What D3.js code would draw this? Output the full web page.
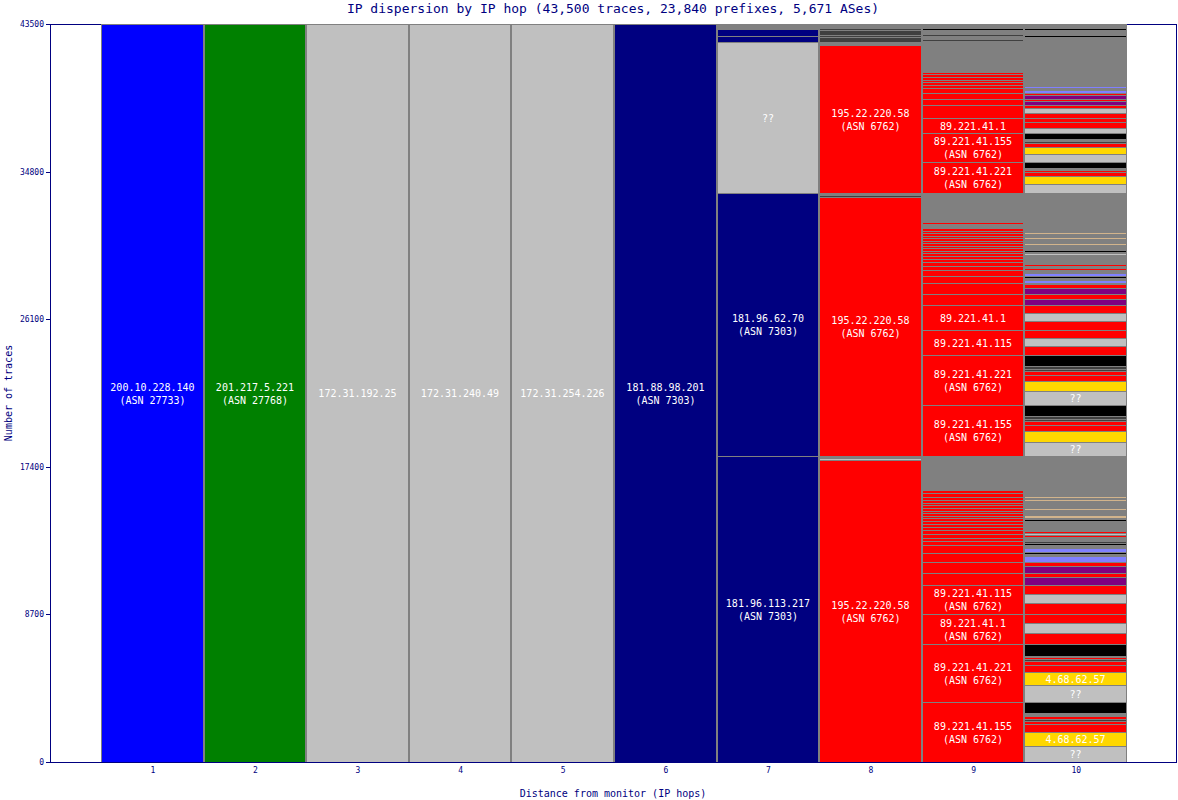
<!DOCTYPE html>
<html><head><meta charset="utf-8">
<script src="https://cdn.jsdelivr.net/npm/d3@7"></script>
<style>body{margin:0;background:#fff}svg{display:block}</style>
</head><body>
<svg id="c" width="1178" height="800"></svg>
<script>
// ---------- data ----------
const chartTitle = "IP dispersion by IP hop (43,500 traces, 23,840 prefixes, 5,671 ASes)";
const xTitle = "Distance from monitor (IP hops)";
const yTitle = "Number of traces";
const hopNumbers = [1,2,3,4,5,6,7,8,9,10];
const yTickValues = [0,8700,17400,26100,34800,43500];
const totalTraces = 43500;

// segments per hop, bottom to top: [traces, group, label]; "gap" = unassigned traces
const hop1 = [[43500,"blue","200.10.228.140\n(ASN 27733)"]];
const hop2 = [[43500,"green","201.217.5.221\n(ASN 27768)"]];
const hop3 = [[43500,"silver","172.31.192.25"]];
const hop4 = [[43500,"silver","172.31.240.49"]];
const hop5 = [[43500,"silver","172.31.254.226"]];
const hop6 = [[43500,"navy","181.88.98.201\n(ASN 7303)"]];
const hop7 = [
  [18037,"navy","181.96.113.217\n(ASN 7303)"],
  [15502,"navy","181.96.62.70\n(ASN 7303)"],
  [8900,"silver","??"],
  [354,"navy",""],[413,"navy",""]
];
const hop8 = [
  [17801,"red","195.22.220.58\n(ASN 6762)"],[118,"silver",""],[118,"gap",""],
  [15266,"red","195.22.220.58\n(ASN 6762)"],[118,"dark",""],[118,"gap",""],
  [8724,"red","195.22.220.58\n(ASN 6762)"],[177,"gap",""],
  [295,"dark",""],[118,"dark",""],[295,"dark",""],[118,"dark",""]
];
const hop9 = [
  [3537,"red","89.221.41.155\n(ASN 6762)"],
  [3419,"red","89.221.41.221\n(ASN 6762)"],
  [1768,"red","89.221.41.1\n(ASN 6762)"],
  [1709,"red","89.221.41.115\n(ASN 6762)"],
  [707,"red",""],[648,"red",""],[530,"red",""],[472,"red",""],
  [236,"red",""],[177,"red",""],[236,"red",""],[236,"red",""],[177,"red",""],[177,"red",""],
  [177,"red",""],[177,"red",""],[118,"red",""],[177,"red",""],[118,"red",""],[177,"red",""],
  [177,"red",""],[118,"red",""],[177,"red",""],[177,"red",""],[236,"red",""],[177,"red",""],
  [2004,"gap",""],
  [3006,"red","89.221.41.155\n(ASN 6762)"],
  [2947,"red","89.221.41.221\n(ASN 6762)"],
  [1474,"red","89.221.41.115"],
  [1474,"red","89.221.41.1"],
  [648,"red",""],[648,"red",""],[413,"red",""],[354,"red",""],
  [236,"red",""],[236,"red",""],[177,"red",""],[177,"red",""],[177,"red",""],[118,"red",""],
  [177,"red",""],[118,"red",""],[177,"red",""],[118,"red",""],[177,"red",""],[118,"red",""],
  [177,"red",""],[118,"red",""],[177,"red",""],[236,"gap",""],[118,"red",""],
  [1709,"gap",""],
  [1827,"red","89.221.41.221\n(ASN 6762)"],
  [1709,"red","89.221.41.155\n(ASN 6762)"],
  [884,"red","89.221.41.1"],
  [766,"red",""],[354,"red",""],[354,"red",""],[295,"red",""],
  [177,"red",""],[177,"red",""],[118,"red",""],[177,"red",""],[177,"red",""],[118,"red",""],
  [1768,"gap",""],
  [59,"gap",""],[118,"dark",""],[177,"gap",""],[118,"dark",""],[236,"gap",""],[118,"black",""]
];
const hop10 = [
  [943,"silver","??"],[825,"gold","4.68.62.57"],[472,"red",""],[177,"red",""],[118,"dark",""],[177,"red",""],[177,"gap",""],[648,"black",""],
  [1002,"silver","??"],[766,"gold","4.68.62.57"],[413,"red",""],[236,"red",""],[118,"dark",""],[118,"red",""],[59,"gap",""],[707,"black",""],
  [648,"red",""],[589,"silver",""],[530,"red",""],
  [648,"red",""],[530,"silver",""],[530,"red",""],
  [472,"purple",""],[236,"red",""],
  [413,"purple",""],[236,"red",""],
  [354,"lav",""],[118,"gap",""],[118,"black",""],[236,"lav",""],[177,"gap",""],[118,"black",""],[118,"dark",""],
  [236,"gap",""],[118,"red",""],[118,"silver",""],[118,"red",""],[589,"gap",""],[118,"black",""],[59,"gap",""],
  [177,"tan",""],[295,"gap",""],[118,"tan",""],[413,"gap",""],[118,"tan",""],[59,"gap",""],[118,"tan",""],[2358,"gap",""],
  [825,"silver","??"],[648,"gold",""],[354,"red",""],[236,"red",""],[118,"dark",""],[177,"dark",""],[648,"black",""],
  [825,"silver","??"],[589,"gold",""],[354,"red",""],[236,"red",""],[118,"dark",""],[177,"dark",""],[648,"black",""],
  [530,"red",""],[472,"silver",""],[472,"red",""],
  [530,"red",""],[472,"silver",""],[472,"red",""],
  [354,"purple",""],[295,"red",""],
  [354,"purple",""],[236,"red",""],[59,"gap",""],
  [177,"lav",""],[118,"gap",""],[118,"black",""],
  [177,"lav",""],[177,"gap",""],
  [118,"red",""],[118,"gap",""],[118,"red",""],[530,"gap",""],[118,"silver",""],[59,"gap",""],[118,"black",""],
  [295,"gap",""],[118,"tan",""],[236,"gap",""],[118,"tan",""],[177,"gap",""],[118,"tan",""],[2299,"gap",""],
  [530,"silver",""],[472,"gold",""],[236,"red",""],[118,"red",""],[118,"gap",""],[354,"black",""],
  [472,"silver",""],[413,"gold",""],[236,"red",""],[118,"dark",""],[118,"gap",""],[354,"black",""],
  [295,"silver",""],[354,"red",""],[236,"red",""],
  [295,"red",""],[295,"silver",""],[177,"red",""],
  [236,"purple",""],[118,"red",""],
  [236,"purple",""],[118,"red",""],
  [177,"lav",""],[118,"gap",""],
  [118,"lav",""],[2593,"gap",""],
  [295,"gap",""],[118,"black",""],[295,"gap",""],[118,"black",""]
];
const hopSegments = [hop1,hop2,hop3,hop4,hop5,hop6,hop7,hop8,hop9,hop10];

// ---------- style ----------
const palette = {
  blue:"#0000ff", green:"#008000", silver:"#c0c0c0", navy:"#000080", red:"#ff0000",
  gold:"#ffd700", purple:"#800080", lav:"#8080ff", tan:"#d2b48c", black:"#000000", dark:"#404040"
};
const axisColor = "#000080";
const barBg = "#808080";
const mono = "'DejaVu Sans Mono', monospace";
const plot = {left:50, right:1176, top:24, bottom:762, barLeft:101, barRight:1127};

const svg = d3.select("#c");
const x = d3.scaleLinear().domain([0.5,10.5]).range([plot.barLeft, plot.barRight]);
const y = d3.scaleLinear().domain([0,totalTraces]).range([plot.bottom, plot.top]);

// frame
svg.append("rect").attr("x",plot.left+0.5).attr("y",plot.top+0.5)
  .attr("width",plot.right-plot.left).attr("height",plot.bottom-plot.top)
  .attr("fill","none").attr("stroke",axisColor).attr("stroke-width",1)
  .attr("shape-rendering","crispEdges");

const bars = svg.append("g").attr("shape-rendering","crispEdges");
const labels = svg.append("g");

hopNumbers.forEach((h,i) => {
  const x0 = Math.round(x(h-0.5)), x1 = Math.round(x(h+0.5));
  bars.append("rect").attr("x",x0).attr("y",plot.top)
    .attr("width",x1-x0).attr("height",plot.bottom-plot.top).attr("fill",barBg);
  let cum = 0;
  hopSegments[i].forEach(([n,grp,lab]) => {
    const c0 = cum, c1 = cum + n; cum = c1;
    if (grp === "gap") return;
    const yTop = Math.round(y(c1)), yBot = Math.round(y(c0));
    bars.append("rect").attr("x",x0+1).attr("y",yTop+1)
      .attr("width",x1-x0-2).attr("height",Math.max(1,yBot-yTop-1))
      .attr("fill",palette[grp]);
    if (lab) {
      const lines = lab.split("\n");
      const cy = (yTop+1+yBot)/2;
      lines.forEach((t,k) => {
        labels.append("text").attr("x",(x0+x1)/2)
          .attr("y",cy + (k-(lines.length-1)/2)*13)
          .attr("text-anchor","middle").attr("dominant-baseline","central")
          .attr("font-family",mono).attr("font-size",10).attr("fill","#fff")
          .text(t);
      });
    }
  });
});

// bottom axis line over bars
svg.append("line").attr("x1",plot.left).attr("x2",plot.right+1)
  .attr("y1",plot.bottom+0.5).attr("y2",plot.bottom+0.5)
  .attr("stroke",axisColor).attr("shape-rendering","crispEdges");

// y axis
const yAxis = svg.append("g").attr("transform",`translate(${plot.left},0)`)
  .call(d3.axisLeft(y).tickValues(yTickValues).tickSize(4).tickPadding(2).tickFormat(d3.format("d")));
yAxis.select(".domain").remove();
yAxis.selectAll("line").attr("stroke",axisColor).attr("shape-rendering","crispEdges");
yAxis.selectAll("text").attr("fill",axisColor).attr("font-family",mono).attr("font-size",8);

// x axis labels
const xAxis = svg.append("g").attr("transform",`translate(0,${plot.bottom})`)
  .call(d3.axisBottom(x).tickValues(hopNumbers).tickSize(0).tickPadding(5).tickFormat(d3.format("d")));
xAxis.select(".domain").remove();
xAxis.selectAll("text").attr("fill",axisColor).attr("font-family",mono).attr("font-size",8);

// titles
svg.append("text").attr("x",(plot.left+plot.right)/2).attr("y",8)
  .attr("text-anchor","middle").attr("dominant-baseline","central")
  .attr("font-family",mono).attr("font-size",13).attr("fill",axisColor).text(chartTitle);
svg.append("text").attr("x",(plot.left+plot.right)/2).attr("y",793)
  .attr("text-anchor","middle").attr("dominant-baseline","central")
  .attr("font-family",mono).attr("font-size",10).attr("fill",axisColor).text(xTitle);
svg.append("text").attr("transform",`translate(8,${(plot.top+plot.bottom)/2}) rotate(-90)`)
  .attr("text-anchor","middle").attr("dominant-baseline","central")
  .attr("font-family",mono).attr("font-size",10).attr("fill",axisColor).text(yTitle);
</script>
</body></html>
